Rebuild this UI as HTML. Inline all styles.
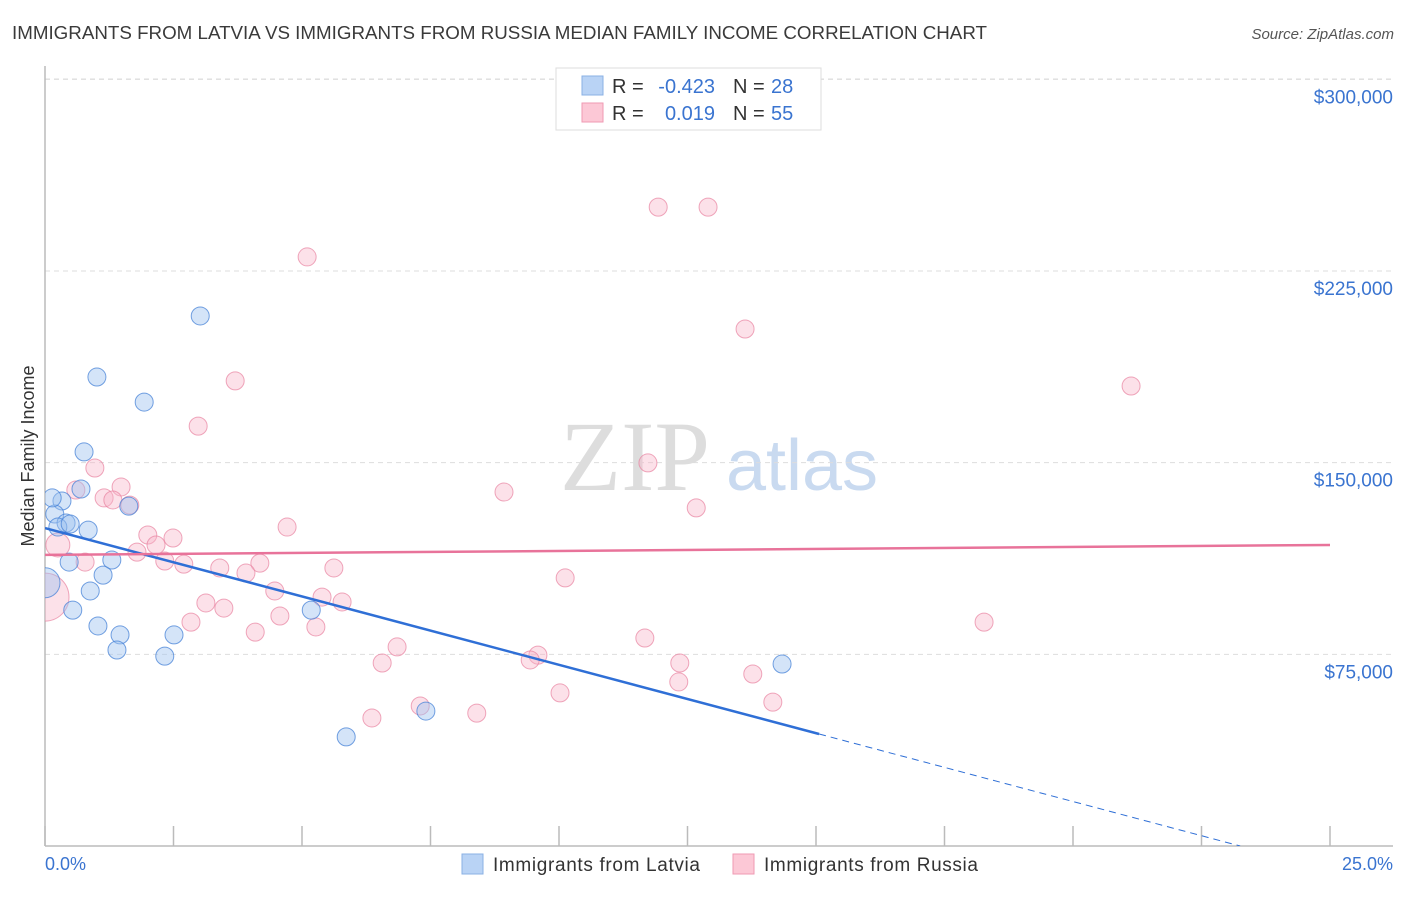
<!DOCTYPE html>
<html><head><meta charset="utf-8"><style>
body{margin:0;background:#fff;font-family:"Liberation Sans",sans-serif}
</style></head><body>
<svg width="1406" height="892" viewBox="0 0 1406 892">
<defs><clipPath id="plotclip"><rect x="45" y="60" width="1360" height="786"/></clipPath></defs>
<text x="12" y="39" font-size="18" fill="#3a3a3a" textLength="975" lengthAdjust="spacingAndGlyphs">IMMIGRANTS FROM LATVIA VS IMMIGRANTS FROM RUSSIA MEDIAN FAMILY INCOME CORRELATION CHART</text>
<text x="1394" y="39" font-size="15" fill="#555" font-style="italic" text-anchor="end">Source: ZipAtlas.com</text>
<g>
<text x="635" y="490" font-size="100" font-family="Liberation Serif,serif" fill="#ddd" text-anchor="middle">ZIP</text>
<text x="802" y="490" font-size="72" fill="#c9daf0" text-anchor="middle">atlas</text>
</g>
<g id="grid"></g>
<g id="axes"></g>
<g id="marks" clip-path="url(#plotclip)"></g>
<g>
<rect x="556" y="68" width="265" height="62" fill="#fff" stroke="#ddd"/>
<rect x="582" y="76" width="21" height="19" fill="#b9d3f5" stroke="#8ab0e4"/>
<rect x="582" y="103" width="21" height="19" fill="#fcc8d6" stroke="#ef9ab3"/>
<text x="612" y="93" font-size="20" fill="#333">R =</text>
<text x="715" y="93" font-size="20" fill="#3a74d0" text-anchor="end">-0.423</text>
<text x="733" y="93" font-size="20" fill="#333">N =</text>
<text x="771" y="93" font-size="20" fill="#3a74d0">28</text>
<text x="612" y="120" font-size="20" fill="#333">R =</text>
<text x="715" y="120" font-size="20" fill="#3a74d0" text-anchor="end">0.019</text>
<text x="733" y="120" font-size="20" fill="#333">N =</text>
<text x="771" y="120" font-size="20" fill="#3a74d0">55</text>
</g>
<g>
<rect x="462" y="854" width="21" height="20" fill="#b9d3f5" stroke="#8ab0e4"/>
<text x="493" y="871" font-size="19" fill="#333" textLength="207">Immigrants from Latvia</text>
<rect x="733" y="854" width="21" height="20" fill="#fcc8d6" stroke="#ef9ab3"/>
<text x="764" y="871" font-size="19" fill="#333" textLength="214">Immigrants from Russia</text>
</g>
<text x="45" y="870" font-size="18" fill="#3a74d0">0.0%</text>
<text x="1393" y="870" font-size="18" fill="#3a74d0" text-anchor="end">25.0%</text>
<text transform="translate(34,456) rotate(-90)" font-size="18" fill="#333" text-anchor="middle">Median Family Income</text>
</svg>
<script>
const yTicks=[75000,150000,225000,300000];
const yTickLabels=["$75,000","$150,000","$225,000","$300,000"];
const latviaX=[3.02,1.01,1.93,0.76,0.70,0.33,1.63,0.19,0.41,0.84,1.30,0.47,1.13,0.0,0.88,0.54,1.03,1.46,2.51,1.40,2.33,5.18,7.41,5.86,14.34,0.25,0.14,0.49];
const latviaY=[207.4,183.5,173.7,154.2,139.7,135.0,133.0,129.9,126.4,123.6,111.9,111.1,106.0,103.0,99.8,92.3,86.1,82.6,82.6,76.7,74.3,92.3,52.8,42.7,71.2,124.8,136.2,126.0];
const latviaR=[9,9,9,9,9,9,9,9,9,9,9,9,9,15,9,9,9,9,9,9,9,9,9,9,9,9,9,9];
const russiaX=[11.93,12.90,5.10,13.62,3.70,21.13,2.98,0.97,11.73,0.60,1.48,1.15,1.32,1.65,8.93,12.67,4.71,2.00,0.25,2.49,2.16,1.79,2.33,2.70,4.18,3.40,3.91,5.62,0.78,4.47,3.13,3.48,5.39,5.78,4.57,2.84,5.27,4.09,18.27,11.67,6.85,10.12,9.59,9.44,6.56,12.35,13.77,12.33,10.02,7.30,6.36,8.40,14.16,0.0];
const russiaY=[250.0,250.0,230.5,202.3,182.0,180.0,164.3,147.9,149.9,139.3,140.5,136.2,135.4,133.4,138.5,132.3,124.8,121.7,117.8,120.5,117.8,115.0,111.5,110.3,110.7,108.8,106.8,108.8,111.1,99.8,95.1,93.1,97.4,95.5,90.0,87.6,85.7,83.7,87.6,81.4,77.9,104.9,74.7,72.8,71.6,71.6,67.3,64.2,59.9,54.8,50.1,52.0,56.3,97.4];
const latviaTrend=[124.4,-5.35];
const russiaTrend=[113.9,0.156];
const NS="http://www.w3.org/2000/svg";
const sx=p=>45+p*51.4;
const sy=k=>846-k*2.5556;
function mk(t,a,par){const e=document.createElementNS(NS,t);for(const k in a)e.setAttribute(k,a[k]);document.getElementById(par).appendChild(e);return e;}
yTicks.forEach((v,i)=>{
 const g=mk('line',{x1:45,x2:1393,y1:sy(v/1000),y2:sy(v/1000),stroke:'#ddd','stroke-dasharray':'5,4'},'grid');
 
 
 const t=mk('text',{x:1393,y:sy(v/1000)+24,'font-size':19,fill:'#3a74d0','text-anchor':'end'},'axes');
 t.textContent=yTickLabels[i];
 
 
});
const gl=mk('line',{x1:45,x2:1393,y1:79,y2:79,stroke:'#ddd','stroke-dasharray':'5,4'},'grid');


const ya=mk('line',{x1:45,x2:45,y1:66,y2:846,stroke:'#bbb','stroke-width':1.5},'axes');


const xa=mk('line',{x1:45,x2:1393,y1:846,y2:846,stroke:'#bbb','stroke-width':1.5},'axes');


for(let i=0;i<=10;i++){const t=mk('line',{x1:sx(i*2.5),x2:sx(i*2.5),y1:826,y2:846,stroke:'#bbb','stroke-width':1.5},'axes');
 
 }
russiaX.forEach((x,i)=>{const c=mk('circle',{cx:sx(x),cy:sy(russiaY[i]),r:(i==53?24:(i==18?12:9)),fill:'rgba(248,180,200,0.4)',stroke:'rgba(232,130,160,0.7)'},'marks');
 
 });
latviaX.forEach((x,i)=>{const c=mk('circle',{cx:sx(x),cy:sy(latviaY[i]),r:latviaR[i],fill:'rgba(160,195,240,0.45)',stroke:'rgba(70,130,215,0.75)'},'marks');
 
 });
const lf=x=>latviaTrend[0]+latviaTrend[1]*x;
const l1=mk('line',{x1:sx(0),y1:sy(lf(0)),x2:sx(15.06),y2:sy(lf(15.06)),stroke:'#2f6fd6','stroke-width':2.5},'marks');


const xEnd=Math.min(25,-latviaTrend[0]/latviaTrend[1]);
const l2=mk('line',{x1:sx(15.06),y1:sy(lf(15.06)),x2:sx(xEnd),y2:sy(lf(xEnd)),stroke:'#2f6fd6','stroke-width':1,'stroke-dasharray':'7,5'},'marks');


const rf=x=>russiaTrend[0]+russiaTrend[1]*x;
const l3=mk('line',{x1:sx(0),y1:sy(rf(0)),x2:sx(25),y2:sy(rf(25)),stroke:'#e8739a','stroke-width':2.5},'marks');


</script>
</body></html>
